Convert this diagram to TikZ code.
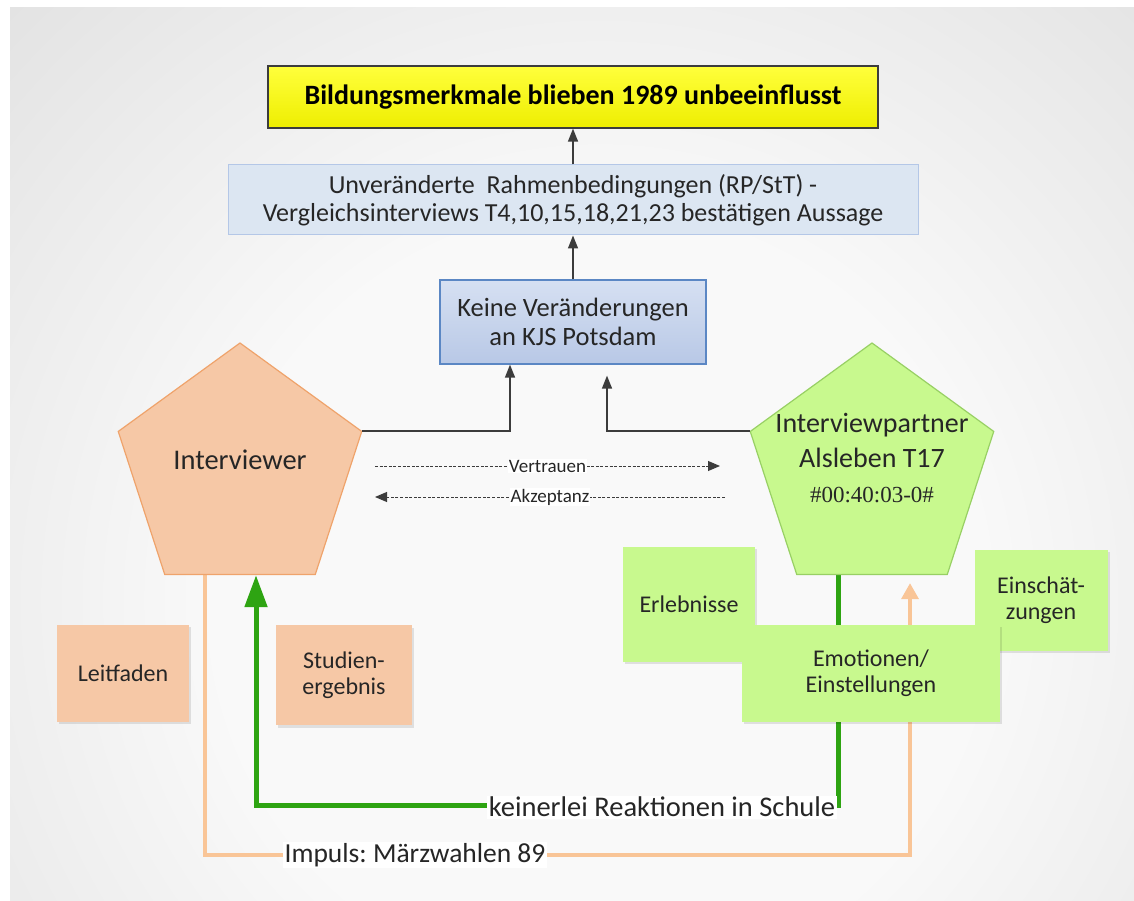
\documentclass[tikz,border=0pt]{standalone}
\usepackage{fontspec}
\setmainfont{Carlito}
\newfontfamily\tcfont{Liberation Serif}
\usetikzlibrary{arrows.meta,shapes.geometric,shadows,calc}
\pgfdeclarelayer{back}
\pgfdeclarelayer{wires}
\pgfsetlayers{back,wires,main}

\definecolor{ink}{HTML}{262626}
\definecolor{wire}{HTML}{3C3C3C}
\definecolor{bggray}{HTML}{D0D0D0}
\definecolor{bglight}{HTML}{F9F9F9}
\definecolor{ytop}{HTML}{FFFF3C}
\definecolor{ybot}{HTML}{EEEE00}
\definecolor{paleblue}{HTML}{DCE6F2}
\definecolor{paleblueline}{HTML}{B4C7E7}
\definecolor{kjstop}{HTML}{D6E0F2}
\definecolor{kjsbot}{HTML}{B8C8E6}
\definecolor{kjsline}{HTML}{5B87C4}
\definecolor{peach}{HTML}{F6C8A6}
\definecolor{peachline}{HTML}{EFA36B}
\definecolor{leaf}{HTML}{C8F98E}
\definecolor{leafline}{HTML}{98D064}
\definecolor{greenwire}{HTML}{2EA412}
\definecolor{orangewire}{HTML}{F9C597}

\pgfdeclareradialshading{backdrop}{\pgfpoint{0bp}{0bp}}{%
  color(0bp)=(bglight); color(15bp)=(bglight); color(48bp)=(bggray); color(70bp)=(bggray)}

\frenchspacing
\begin{document}
\begin{tikzpicture}[x=1pt,y=-1pt,
  every node/.style={text=ink},
  softshadow/.style={drop shadow={shadow xshift=2pt,shadow yshift=-2.5pt,opacity=.1,fill=black}},
  titlebox/.style={draw=wire,line width=1.3pt,top color=ytop,bottom color=ybot,text=black,
    minimum width=610pt,minimum height=62pt,font=\fontsize{28}{32}\selectfont\bfseries},
  framebox/.style={draw=paleblueline,line width=1pt,fill=paleblue,align=center,
    minimum width=690pt,minimum height=70pt,font=\fontsize{26}{28}\selectfont},
  kjsbox/.style={draw=kjsline,line width=1.3pt,top color=kjstop,bottom color=kjsbot,align=center,
    minimum width=266pt,minimum height=84pt,font=\fontsize{26.5}{29}\selectfont},
  pent/.style={regular polygon,regular polygon sides=5,minimum size=256pt,inner sep=0pt,line width=1.2pt},
  peachbox/.style={fill=peach,softshadow,align=center,font=\fontsize{24}{26}\selectfont},
  leafbox/.style={fill=leaf,softshadow,align=center,font=\fontsize{24}{26}\selectfont},
  conn/.style={draw=wire,line width=1.5pt,-{Triangle[length=13pt,width=10pt]}},
  dashconn/.style={draw=wire,line width=1pt,dash pattern=on 3pt off 1.6pt},
  dlabel/.style={fill=white,inner sep=1pt,font=\fontsize{19}{21}\selectfont},
  wirelabel/.style={fill=white,inner sep=1.5pt,font=\fontsize{28.5}{31}\selectfont},
  greenline/.style={draw=greenwire,line width=5pt,-{Triangle[length=32pt,width=22pt]}},
  orangeline/.style={draw=orangewire,line width=3.5pt,-{Triangle[length=16pt,width=17pt]}}]

\useasboundingbox (0,0) rectangle (1134,901);

% backdrop: white frame with a softly lit grey panel
\begin{pgfonlayer}{back}
  \fill[white] (0,0) rectangle (1134,901);
  \begin{scope}
    \clip (10,8) rectangle (1134,901);
    \shade[shading=backdrop] (-40,-40) rectangle (1240,1240);
  \end{scope}
\end{pgfonlayer}

% upper chain of statements
\node[titlebox] (title) at (573,97) {Bildungsmerkmale blieben 1989 unbeeinflusst};
\node[framebox] (frame) at (573,200)
  {Unveränderte\ \ Rahmenbedingungen (RP/StT) -\\Vergleichsinterviews T4,10,15,18,21,23 bestätigen Aussage};
\node[kjsbox] (kjs) at (573,322) {Keine Veränderungen\\an KJS Potsdam};

% the two interview parties
\node[pent,fill=peach,draw=peachline] (iv) at (240,471) {};
\node[font=\fontsize{28.5}{30}\selectfont] (ivtext) at (240,460) {Interviewer};
\node[pent,fill=leaf,draw=leafline] (ip) at (872,471) {};
\node[align=center,font=\fontsize{28}{35}\selectfont] (iptext) at (872,458)
  {Interviewpartner\\Alsleben T17\\{\tcfont\fontsize{23}{35}\selectfont \#00:40:03-0\#}};

% supporting material
\node[peachbox,minimum width=132pt,minimum height=97pt] (leit) at (123,673) {Leitfaden};
\node[peachbox,minimum width=136pt,minimum height=100pt] (stud) at (344,675) {Studien-\\ergebnis};
\node[leafbox,minimum width=132pt,minimum height=115pt] (erl) at (689,604) {Erlebnisse};
\node[leafbox,minimum width=133pt,minimum height=101pt] (ein) at (1041,600) {Einschät-\\zungen};
\node[leafbox,minimum width=258pt,minimum height=97pt] (emo) at (871,673) {Emotionen/\\Einstellungen};

% arrows of the upper chain
\draw[conn] (frame.north) -- (title.south);
\draw[conn] (kjs.north) -- (frame.south);
\draw[conn] (iv.corner 5) -| ([xshift=-63pt]kjs.south);
\draw[conn] (ip.corner 2) -| ([xshift=34pt,yshift=-11pt]kjs.south);

% trust and acceptance
\coordinate (vstart) at (375,466);
\coordinate (vend) at (720,466);
\coordinate (astart) at (725,497);
\coordinate (aend) at (375,497);
\draw[dashconn,-{Triangle[length=12pt,width=10pt]}] (vstart) -- node[dlabel] (vlab) {Vertrauen} (vend);
\draw[dashconn,-{Triangle[length=12pt,width=10pt]}] (astart) -- node[dlabel] (alab) {Akzeptanz} (aend);

% feedback loops below the boxes
\coordinate (greenbase) at (660,805);
\coordinate (orangebase) at (415,855);
\begin{pgfonlayer}{wires}
  \draw[greenline] ([xshift=-34pt]ip.south) |- (greenbase) -| ([xshift=16pt]iv.south);
  \draw[orangeline] ([xshift=-35pt]iv.south) |- (orangebase) -| ([xshift=38pt,yshift=-8pt]ip.south);
\end{pgfonlayer}
\node[wirelabel] (react) at (662,807) {keinerlei Reaktionen in Schule};
\node[wirelabel,font=\fontsize{27.5}{30}\selectfont] (impuls) at (415,855) {Impuls: Märzwahlen 89};

\end{tikzpicture}
\end{document}
